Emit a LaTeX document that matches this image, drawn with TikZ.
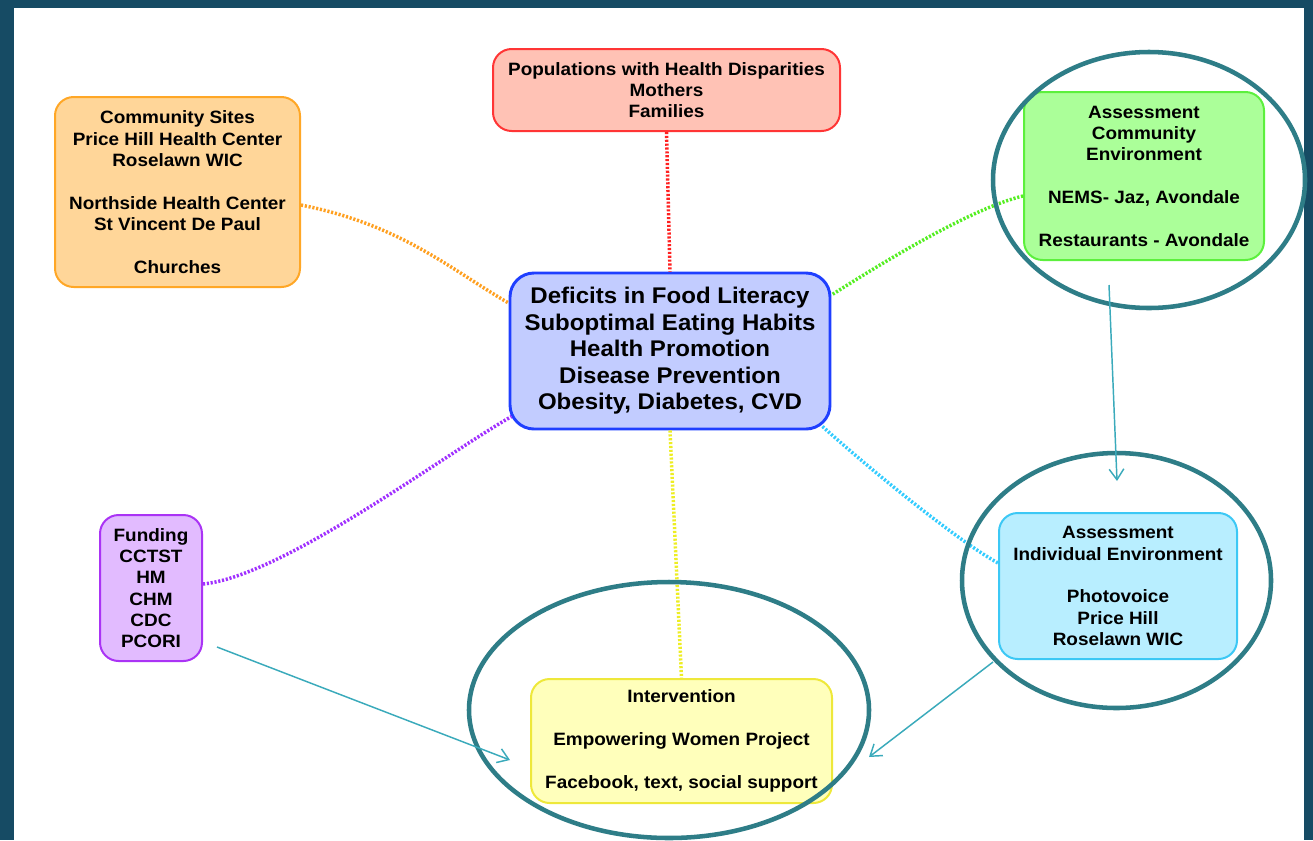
\documentclass[tikz,border=0pt]{standalone}
\usepackage{fontspec}
\newfontfamily\lsb{Liberation Sans}[FakeStretch=1.06]
\usetikzlibrary{shapes.geometric,arrows.meta}
\definecolor{bgdark}{HTML}{164B64}
\definecolor{ringc}{HTML}{2E7D87}
\definecolor{arrc}{HTML}{3AAABB}
\definecolor{orfill}{HTML}{FFD699}\definecolor{ordraw}{HTML}{FFA726}
\definecolor{rdfill}{HTML}{FFC2B5}\definecolor{rddraw}{HTML}{FF3535}
\definecolor{grfill}{HTML}{ABFF99}\definecolor{grdraw}{HTML}{5CF03D}
\definecolor{blfill}{HTML}{C2CCFF}\definecolor{bldraw}{HTML}{1F3FFF}
\definecolor{pufill}{HTML}{E2BBFF}\definecolor{pudraw}{HTML}{AA33F5}
\definecolor{cyfill}{HTML}{B8EEFF}\definecolor{cydraw}{HTML}{3CC8F5}
\definecolor{yefill}{HTML}{FFFFBB}\definecolor{yedraw}{HTML}{EEE83A}
\definecolor{ordot}{HTML}{FFA020}\definecolor{rddot}{HTML}{FF2020}
\definecolor{grdot}{HTML}{55EE22}\definecolor{pudot}{HTML}{A030FF}
\definecolor{yedot}{HTML}{EEEE22}\definecolor{cydot}{HTML}{33CCFF}
\begin{document}
\begin{tikzpicture}[x=0.75pt,y=-0.75pt,
  box/.style={rounded corners=14pt, line width=1.5pt, inner sep=0pt, align=center, text=black,
    font=\lsb\bfseries\fontsize{13.4pt}{16pt}\selectfont},
  bigbox/.style={box, rounded corners=18pt, line width=2.2pt,
    font=\lsb\bfseries\fontsize{17pt}{19.9pt}\selectfont},
  link/.style={line width=2.6pt, dash pattern=on 1.6pt off 1.3pt},
  ring/.style={ellipse, draw=ringc, line width=3.4pt, inner sep=0pt},
  flow/.style={draw=arrc, line width=1.1pt, -{Straight Barb[length=8pt,width=11pt,line width=1.1pt]}}
]
\useasboundingbox (0,0) rectangle (1313,840);
\fill[bgdark] (0,0) rectangle (1313,840);
\fill[white] (14,8) rectangle (1304,840);

% boxes
\node[box, fill=orfill, draw=ordraw, minimum width=183.75pt, minimum height=142.5pt] (orange) at (177.5,192)
  {Community Sites\\Price Hill Health Center\\Roselawn WIC\\\strut\\Northside Health Center\\St Vincent De Paul\\\strut\\Churches};
\node[box, fill=rdfill, draw=rddraw, minimum width=260.25pt, minimum height=61.5pt] (red) at (666.5,90)
  {Populations with Health Disparities\\Mothers\\Families};
\node[box, fill=grfill, draw=grdraw, minimum width=180pt, minimum height=126pt] (green) at (1144,176)
  {Assessment\\Community\\Environment\\\strut\\NEMS- Jaz, Avondale\\\strut\\Restaurants - Avondale};
\node[bigbox, fill=blfill, draw=bldraw, minimum width=240pt, minimum height=117pt] (blue) at (670,351)
  {Deficits in Food Literacy\\Suboptimal Eating Habits\\Health Promotion\\Disease Prevention\\Obesity, Diabetes, CVD};
\node[box, fill=pufill, draw=pudraw, minimum width=76.5pt, minimum height=109.5pt] (purple) at (151,588)
  {Funding\\CCTST\\HM\\CHM\\CDC\\PCORI};
\node[box, fill=cyfill, draw=cydraw, minimum width=178.5pt, minimum height=109.5pt] (cyan) at (1118,586)
  {Assessment\\Individual Environment\\\strut\\Photovoice\\Price Hill\\Roselawn WIC};
\node[box, fill=yefill, draw=yedraw, minimum width=225.75pt, minimum height=93pt] (yellow) at (681.5,741)
  {Intervention\\\strut\\Empowering Women Project\\\strut\\Facebook, text, social support};

% dotted links
\draw[link, draw=rddot] (red.south) -- (blue.north);
\draw[link, draw=yedot] (blue.south) -- (yellow.north);
\draw[link, draw=ordot] ([shift={(0,13)}]orange.east) .. controls +(100,20) and +(-60,-35) .. ([shift={(0,-48)}]blue.west);
\draw[link, draw=grdot] ([shift={(0,20)}]green.west) .. controls +(-50,12) and +(60,-38) .. ([shift={(0,-56)}]blue.east);
\draw[link, draw=pudot] ([shift={(0,-4)}]purple.east) .. controls +(80,-8) and +(-70,40) .. ([shift={(3,-14)}]blue.south west);
\draw[link, draw=cydot] ([shift={(-9,-4)}]blue.south east) .. controls +(50,45) and +(-40,-22) .. ([shift={(0,-23)}]cyan.west);

% rings
\node[ring, minimum width=234pt, minimum height=192pt] (ringG) at (1149,180) {};
\node[ring, minimum width=231.75pt, minimum height=191.25pt] (ringC) at (1116.5,580.5) {};
\node[ring, minimum width=300pt, minimum height=192pt] (ringY) at (669,710) {};

% arrows
\coordinate (a1s) at (1109,285);
\coordinate (a1e) at (1117,481);
\coordinate (a2s) at (217,647);
\coordinate (a2e) at (510,760);
\coordinate (a3s) at (993,662);
\coordinate (a3e) at (869,757);
\draw[flow] (a1s) -- (a1e);
\draw[flow] (a2s) -- (a2e);
\draw[flow] (a3s) -- (a3e);
\end{tikzpicture}
\end{document}
